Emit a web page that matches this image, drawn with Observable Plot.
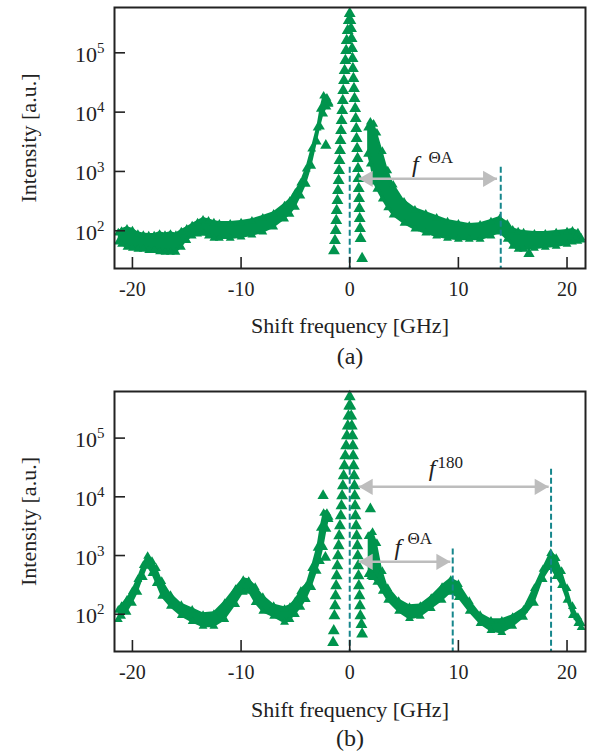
<!DOCTYPE html>
<html><head><meta charset="utf-8">
<script src="https://cdn.jsdelivr.net/npm/d3@7"></script>
<script src="https://cdn.jsdelivr.net/npm/@observablehq/plot@0.6"></script>
<style>
body{margin:0;background:#fff;}
#chart{width:589px;}
#chart svg{display:block;}
</style></head><body><div id="chart"></div>
<script>
// ---------- shared ----------
const xTicks = [-20, -10, 0, 10, 20];
const yTicks = [1e2, 1e3, 1e4, 1e5];
const xLabel = "Shift frequency [GHz]";
const yLabel = "Intensity [a.u.]";

// ---------- panel (a) ----------
const aLeftX  = [-21.3,-21,-20.5,-20,-19.5,-19,-18.5,-18,-17.5,-17,-16.5,-16,-15.5,-15,-14.5,-14,-13.5,-13,-12.5,-12,-11,-10,-9,-8,-7,-6,-5.5,-5,-4.5,-4,-3.5,-3,-2.7,-2.4,-2.1,-1.9];
const aLeftHi = [101,108,117,110,96,92,90,90,96,92,96,92,105,117,133,149,167,160,149,143,143,149,160,180,210,290,349,476,703,1210,2630,5940,12400,20600,19000,15700];
const aLeftLo = [61,56,50,48,46,46,44,44,42,41,41,41,50,65,77,83,86,77,71,71,71,74,80,90,109,150,180,235,363,578,1160,2960,5290,8770,11500,12900];
const aRightX  = [1.65,1.9,2.2,2.5,3,3.5,4,5,6,7,8,9,10,11,12,13,13.8,14.5,15,15.5,16,17,18,19,20,20.5,21,21.3];
const aRightHi = [5940,7500,6930,4900,2400,1130,650,336,246,211,180,155,143,132,137,155,174,143,113,105,101,97,97,101,105,109,101,83];
const aRightLo = [1850,1260,625,476,323,230,174,127,101,87,77,71,68,68,68,77,90,68,52,46,46,48,50,52,56,61,63,66];
const aPeakX = [-1.45,-1.36,-1.29,-1.24,-1.20,-1.13,-1.08,-1.02,-0.98,-0.94,-0.89,-0.85,-0.80,-0.75,-0.69,-0.64,-0.60,-0.53,-0.47,-0.40,-0.33,-0.28,-0.19,-0.09,0,
                1.14,1.00,0.95,0.92,0.89,0.86,0.83,0.80,0.76,0.72,0.68,0.63,0.60,0.55,0.50,0.44,0.39,0.34,0.29,0.26,0.22,0.17,0.12,0.06];
const aPeakY = [46,68,101,149,219,323,476,703,1036,1530,2250,3320,4900,7220,10600,15700,23100,34100,50400,74200,109000,161000,238000,351000,460000,
                34,74,109,161,237,349,515,759,1120,1650,2430,3590,5290,7800,11500,16900,25000,36900,54300,80200,118000,174000,257000,351000];
const aLoneX = [-2.2, 16.5];
const aLoneY = [2740, 41];
const aDashX = [0, 13.9];
const aDashTop = [1180, 1180];
const aArrowX1 = [0.83];
const aArrowX2 = [13.56];
const aArrowY = [750];
const aLabelX = [6.04];
const aLabelY = [1310];
const aSupX = [7.24];
const aSupY = [1710];
const aSupText = ["ΘA"];

// ---------- panel (b) ----------
const bLeftX  = [-21.3,-21,-20.5,-20,-19.5,-19,-18.6,-18.2,-17.8,-17.3,-16.5,-15.5,-14.5,-13.5,-12.5,-11.5,-10.5,-9.8,-9.3,-8.7,-8,-7,-6,-5.5,-5,-4.5,-4,-3.5,-3,-2.7,-2.4,-2.1,-1.9];
const bLeftHi = [129,150,191,271,434,751,1070,879,668,401,232,156,129,106,110,169,293,417,401,317,214,150,134,145,183,271,330,668,1470,3210,5780,5780,4940];
const bLeftLo = [77,87,102,145,223,401,618,469,317,191,129,90,71,59,59,77,139,223,232,150,106,87,69,77,94,124,169,271,508,751,1300,2640,3900];
const bRightX  = [1.7,2.1,2.5,3,3.5,4.5,5.5,6.5,7.5,8.5,9.3,10,11,12,13,14,15,16,17,17.8,18.5,19,19.5,20,20.5,21,21.3];
const bRightHi = [2340,2740,1780,594,305,183,145,150,206,317,417,356,183,106,84,84,98,129,305,643,1200,989,594,305,150,98,77];
const bRightLo = [451,401,330,232,163,106,80,87,119,163,223,183,106,66,50,46,59,84,145,371,594,417,293,163,90,66,56];
const bPeakX = [-1.53,-1.47,-1.41,-1.35,-1.30,-1.25,-1.20,-1.14,-1.08,-1.02,-0.97,-0.90,-0.82,-0.76,-0.70,-0.63,-0.56,-0.49,-0.41,-0.33,-0.26,-0.18,-0.12,-0.05,0,
                1.14,1.08,0.98,0.94,0.90,0.84,0.81,0.78,0.74,0.70,0.64,0.59,0.53,0.49,0.46,0.43,0.40,0.36,0.32,0.29,0.25,0.19,0.14,0.06];
const bPeakY = [33,52,94,139,206,305,451,668,989,1470,2170,3210,4750,7030,10400,15400,22800,33700,49800,73700,109000,161000,238000,352000,507000,
                46,67,94,139,206,305,451,668,989,1470,2170,3210,4750,7030,10400,15400,22800,33700,49800,73700,109000,161000,238000,352000];
const bLoneX = [-2.45, -2.24, 1.90, 2.06];
const bLoneY = [10400, 925, 6180, 451];
const bDashX = [0, 9.48, 18.53];
const bDashTop = [29600, 1290, 29600];
const bArrowX1 = [0.83, 0.83];
const bArrowX2 = [18.31, 9.26];
const bArrowY = [14800, 782];
const bLabelX = [7.58, 4.43];
const bLabelY = [30000, 1370];
const bSupX = [8.07, 5.31];
const bSupY = [38500, 1950];
const bSupText = ["180", "ΘA"];

// ---------- styling ----------
const GREEN = "#00944d";
const TEAL = "#16868c";
const GRAY = "#bdbdbd";
const INK = "#222";
const FONT = "'Liberation Serif', 'Times New Roman', serif";
const W = 589, ML = 114, MR = 4;

function panel(o) {
  const band = [
    ...o.lx.map((x, i) => ({x, hi: o.lhi[i], lo: o.llo[i], seg: "L"})),
    ...o.rx.map((x, i) => ({x, hi: o.rhi[i], lo: o.rlo[i], seg: "R"}))
  ];
  const peak = o.px.map((x, i) => ({x, y: o.py[i]}));
  const lone = o.lonex.map((x, i) => ({x, y: o.loney[i]}));
  const dash = o.dx.map((x, i) => ({x, top: o.dtop[i]}));
  const arrows = o.ax1.map((x1, i) => ({x1, x2: o.ax2[i], y: o.ay[i]}));
  const labels = o.fx.map((x, i) => ({x, y: o.fy[i], sx: o.sx[i], sy: o.sy[i], sup: o.st[i]}));
  const fw = W - ML - MR;
  const fh = o.height - o.mt - o.mb;
  const yMin = o.ydom[0];
  const svg = Plot.plot({
    width: W, height: o.height,
    marginLeft: ML, marginRight: MR, marginTop: o.mt, marginBottom: o.mb,
    style: {fontFamily: FONT, background: "#fff", color: INK},
    x: {domain: [-21.65, 21.7]},
    y: {type: "log", domain: o.ydom},
    marks: [
      Plot.areaY(band, {x: "x", y1: "lo", y2: "hi", z: "seg", fill: GREEN}),
      Plot.dot(band, {x: "x", y: "hi", symbol: "triangle", r: 3.3, fill: GREEN, stroke: null, dy: 2.5}),
      Plot.dot(band, {x: "x", y: "lo", symbol: "triangle", r: 3.3, fill: GREEN, stroke: null, dy: -1.5}),
      Plot.dot(peak, {x: "x", y: "y", symbol: "triangle", r: 4.4, fill: GREEN, stroke: null}),
      Plot.dot(lone, {x: "x", y: "y", symbol: "triangle", r: 4.2, fill: GREEN, stroke: null}),
      Plot.ruleX(dash, {x: "x", y1: "top", y2: yMin, stroke: TEAL, strokeWidth: 2, strokeDasharray: "6,3"}),
      Plot.link(arrows, {x1: "x1", x2: "x2", y1: "y", y2: "y", stroke: GRAY, strokeWidth: 2.5}),
      Plot.dot(arrows, {x: "x1", y: "y", symbol: "triangle", r: 6, rotate: -90, dx: 9.3, fill: GRAY, stroke: null}),
      Plot.dot(arrows, {x: "x2", y: "y", symbol: "triangle", r: 6, rotate: 90, dx: -9.3, fill: GRAY, stroke: null}),
      Plot.text(labels, {x: "x", y: "y", text: () => "f", fontStyle: "italic", fontSize: 24, fill: INK}),
      Plot.text(labels, {x: "sx", y: "sy", text: "sup", textAnchor: "start", fontSize: 17, fill: INK}),
      Plot.tickX(xTicks, {x: d => d, insetTop: fh - 11, stroke: INK, strokeWidth: 1.6}),
      Plot.tickY(yTicks, {y: d => d, insetRight: fw - 11, stroke: INK, strokeWidth: 1.6}),
      Plot.axisX({ticks: xTicks, tickSize: 0, tickPadding: 13, fontSize: 20, tickFormat: d => String(d), label: null}),
      Plot.axisY({ticks: yTicks, tickSize: 0, tickPadding: 10, fontSize: 22, dy: 2, tickFormat: d => "10^" + Math.round(Math.log10(d)), label: null}),
      Plot.text([xLabel], {frameAnchor: "bottom", dy: o.xlDy, lineAnchor: "middle", textAnchor: "middle", fontSize: 22, fill: INK}),
      Plot.text([o.tag], {frameAnchor: "bottom", dy: o.tagDy, lineAnchor: "middle", textAnchor: "middle", fontSize: 24, fill: INK}),
      Plot.text([yLabel], {frameAnchor: "left", dx: -86, rotate: -90, lineAnchor: "middle", textAnchor: "middle", fontSize: 22, fill: INK}),
      Plot.frame({stroke: INK, strokeWidth: 2})
    ]
  });
  const ns = "http://www.w3.org/2000/svg";
  svg.querySelectorAll('g[aria-label="y-axis tick label"] text').forEach(t => {
    const s = t.textContent;
    if (!s.includes("^")) return;
    const [b, e] = s.split("^");
    t.textContent = "";
    const t1 = document.createElementNS(ns, "tspan"); t1.textContent = b;
    const t2 = document.createElementNS(ns, "tspan"); t2.textContent = e;
    t2.setAttribute("dy", "-0.6em");
    t2.style.fontSize = "0.68em";
    t.append(t1, t2);
  });
  return svg;
}

const root = document.getElementById("chart");
root.append(panel({
  height: 378, mt: 7, mb: 110, ydom: [23.1, 581000],
  lx: aLeftX, lhi: aLeftHi, llo: aLeftLo, rx: aRightX, rhi: aRightHi, rlo: aRightLo,
  px: aPeakX, py: aPeakY, lonex: aLoneX, loney: aLoneY,
  dx: aDashX, dtop: aDashTop, ax1: aArrowX1, ax2: aArrowX2, ay: aArrowY,
  fx: aLabelX, fy: aLabelY, sx: aSupX, sy: aSupY, st: aSupText,
  tag: "(a)", xlDy: 57, tagDy: 88
}));
root.append(panel({
  height: 378, mt: 13, mb: 105, ydom: [23.2, 622000],
  lx: bLeftX, lhi: bLeftHi, llo: bLeftLo, rx: bRightX, rhi: bRightHi, rlo: bRightLo,
  px: bPeakX, py: bPeakY, lonex: bLoneX, loney: bLoneY,
  dx: bDashX, dtop: bDashTop, ax1: bArrowX1, ax2: bArrowX2, ay: bArrowY,
  fx: bLabelX, fy: bLabelY, sx: bSupX, sy: bSupY, st: bSupText,
  tag: "(b)", xlDy: 58, tagDy: 87
}));
</script></body></html>
